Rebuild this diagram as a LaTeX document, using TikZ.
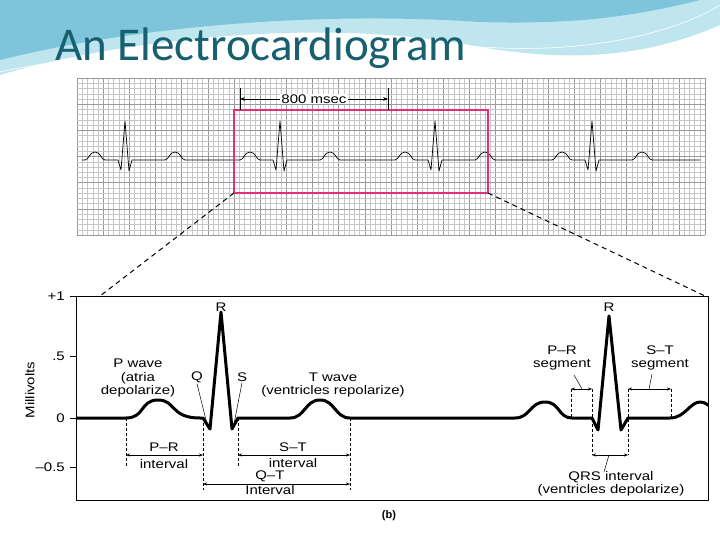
\documentclass[tikz,border=0pt]{standalone}
\usepackage{fontspec}
\setmainfont{Liberation Sans}
\newfontfamily\titlefont{Carlito}
\newfontfamily\lblfont[FakeStretch=1.2]{Liberation Sans}
\usetikzlibrary{arrows.meta}
\definecolor{teal1}{HTML}{17606F}
\definecolor{sky1}{HTML}{7EC4DA}
\definecolor{sky2}{HTML}{BFE6EE}
\definecolor{pinkbox}{HTML}{E0307A}
\tikzset{
  lbl/.style={font=\lblfont\fontsize{12.5}{13.5}\selectfont, align=center, inner sep=1pt},
  dimline/.style={dashed, dash pattern=on 3pt off 2pt, line width=0.5pt},
  dimarrow/.style={{Stealth[length=4pt]}-{Stealth[length=4pt]}, line width=0.5pt},
  wave/.style={line width=3pt, line join=round},
  ptr/.style={line width=0.5pt}
}
\begin{document}
\begin{tikzpicture}[x=1pt,y=-1pt]
\useasboundingbox (0,0) rectangle (720,540);
\fill[white] (0,0) rectangle (720,540);
% decorative swoosh
\fill[sky2] (0,0) -- (720,0) -- (720,25) .. controls (640,60) and (560,62) .. (470,45) .. controls (300,15) and (100,45) .. (0,75) -- cycle;
\fill[sky1] (0,0) -- (700,0) .. controls (640,15) and (580,25) .. (480,22) .. controls (300,10) and (120,30) .. (0,60) -- cycle;
\draw[white, line width=0.6pt] (0,72) .. controls (150,40) and (350,40) .. (500,48) .. controls (600,52) and (680,30) .. (720,5);
\node[anchor=base west, text=teal1, font=\titlefont\fontsize{47}{50}\selectfont, inner sep=0] (title) at (55,61) {An Electrocardiogram};
% grid
\fill[white] (77,78) rectangle (705,235);
\foreach \i in {0,...,120} {
  \pgfmathsetmacro\xx{77+\i*5.233}
  \pgfmathtruncatemacro\mm{mod(\i,5)}
  \ifnum\mm=0 \draw[gray!80, line width=0.6pt] (\xx,78) -- (\xx,235);
  \else \draw[gray!45, line width=0.3pt] (\xx,78) -- (\xx,235); \fi
}
\foreach \j in {0,...,30} {
  \pgfmathsetmacro\yy{78+\j*5.233}
  \pgfmathtruncatemacro\mm{mod(\j,5)}
  \ifnum\mm=0 \draw[gray!80, line width=0.6pt] (77,\yy) -- (705,\yy);
  \else \draw[gray!45, line width=0.3pt] (77,\yy) -- (705,\yy); \fi
}
% top trace
\draw[line width=0.7pt, line join=round] (82,160)
 \foreach \r in {125,280,435,592} {
  -- (\r-40,160) .. controls (\r-36,160) and (\r-36,152) .. (\r-30,152) .. controls (\r-24,152) and (\r-24,160) .. (\r-20,160)
  -- (\r-7,160) -- (\r-4,170) -- (\r,121) -- (\r+4,171) -- (\r+7,160)
  -- (\r+40,160) .. controls (\r+44,160) and (\r+44,152) .. (\r+50,152) .. controls (\r+56,152) and (\r+56,160) .. (\r+60,160)
 } -- (700,160);
% pink box and 800 msec
\draw[pinkbox, line width=1.2pt] (234,110) rectangle (488,193);
\coordinate (zl) at (234,193);
\coordinate (zr) at (488,193);
\draw[line width=0.8pt] (240,88) -- (240,110);
\draw[line width=0.8pt] (388,88) -- (388,110);
\node[lbl, fill=white, inner sep=1pt] (msec) at (314,99) {800 msec};
\coordinate (ml) at (240,99);
\coordinate (mr) at (388,99);
\draw[-{Stealth[length=5pt]}, line width=0.6pt] (msec.west) -- (ml);
\draw[-{Stealth[length=5pt]}, line width=0.6pt] (msec.east) -- (mr);
% zoom lines
\coordinate (bl) at (100,296);
\coordinate (br) at (705,296);
\draw[dashed, dash pattern=on 5pt off 4pt, line width=1pt] (zl) -- (bl);
\draw[dashed, dash pattern=on 5pt off 4pt, line width=1pt] (zr) -- (br);
% bottom frame
\draw[line width=0.8pt] (76,296) rectangle (708,500);
\node[lbl, anchor=east] (p1) at (66,296) {+1};
\node[lbl, anchor=east] (p5) at (66,356) {.5};
\node[lbl, anchor=east] (p0) at (66,418) {0};
\node[lbl, anchor=east] (m5) at (66,467) {–0.5};
\foreach \yy in {296,356,418,467} \draw[line width=0.6pt] (70,\yy) -- (76,\yy);
\node[lbl, rotate=90] (mv) at (30,390) {Millivolts};
% bottom waveform
\begin{scope}
\clip (76,296) rectangle (708,500);
\draw[wave] (76,418) -- (126,418)
 .. controls (145,418) and (140,400) .. (158,400) .. controls (176,400) and (170,418) .. (200,418)
 -- (203,418) -- (210,429) -- (221,312) -- (232,429) -- (238,418) -- (290,418)
 .. controls (305,418) and (305,400) .. (320,400) .. controls (335,400) and (335,418) .. (350,418)
 -- (515,418) .. controls (530,418) and (530,402) .. (545,402) .. controls (560,402) and (558,418) .. (572,418)
 -- (592,418) -- (598,430) -- (609,316) -- (621,430) -- (628,418) -- (670,418)
 .. controls (685,418) and (690,402) .. (700,402) .. controls (705,402) and (708,405) .. (712,408);
\end{scope}
% left labels
\node[lbl] (pw) at (138,378) {P wave\\(atria\\depolarize)};
\node[lbl] (R1) at (221,307) {R};
\node[lbl] (Q) at (197,377) {Q};
\node[lbl] (S) at (242,377) {S};
\coordinate (qd) at (207,424);
\coordinate (sd) at (234,424);
\draw[ptr] (Q.south) -- (qd);
\draw[ptr] (S.south) -- (sd);
\node[lbl] (tw) at (333,385) {T wave\\(ventricles repolarize)};
% interval dims
\draw[dimline] (126,418) -- (126,466);
\draw[dimline] (203,418) -- (203,490);
\draw[dimline] (238,418) -- (238,466);
\draw[dimline] (350,418) -- (350,490);
\coordinate (pr1) at (126,455); \coordinate (pr2) at (203,455);
\coordinate (st1) at (238,455); \coordinate (st2) at (350,455);
\coordinate (qt1) at (203,484); \coordinate (qt2) at (350,484);
\draw[dimarrow] (pr1) -- (pr2);
\draw[dimarrow] (st1) -- (st2);
\draw[dimarrow] (qt1) -- (qt2);
\node[lbl] (prl) at (164,447) {P–R};
\node[lbl] (pri) at (164,464) {interval};
\node[lbl] (stl) at (293,447) {S–T};
\node[lbl] (sti) at (293,463) {interval};
\node[lbl] (qtl) at (270,476) {Q–T};
\node[lbl] (qti) at (270,490) {Interval};
% right labels
\node[lbl] (R2) at (609,307) {R};
\node[lbl] (prs) at (562,358) {P–R\\segment};
\node[lbl] (sts) at (660,358) {S–T\\segment};
\draw[dimline] (571,389) -- (571,418);
\draw[dimline] (592,389) -- (592,455);
\draw[dimline] (628,389) -- (628,455);
\draw[dimline] (671,389) -- (671,418);
\coordinate (ps1) at (571,389); \coordinate (ps2) at (592,389);
\coordinate (ss1) at (628,389); \coordinate (ss2) at (671,389);
\coordinate (qr1) at (592,455); \coordinate (qr2) at (628,455);
\draw[dimarrow] (ps1) -- (ps2);
\draw[dimarrow] (ss1) -- (ss2);
\draw[dimarrow] (qr1) -- (qr2);
\coordinate (psp) at (582,389); \coordinate (ssp) at (649,389); \coordinate (qrp) at (609,455);
\draw[ptr] (574,375) -- (psp);
\draw[ptr] (652,374) -- (ssp);
\node[lbl] (qrs) at (611,484) {QRS interval\\(ventricles depolarize)};
\draw[ptr] (604,472) -- (qrp);
\node[lbl, font=\bfseries\fontsize{11}{12}\selectfont] (b) at (389,516) {(b)};
\end{tikzpicture}
\end{document}
